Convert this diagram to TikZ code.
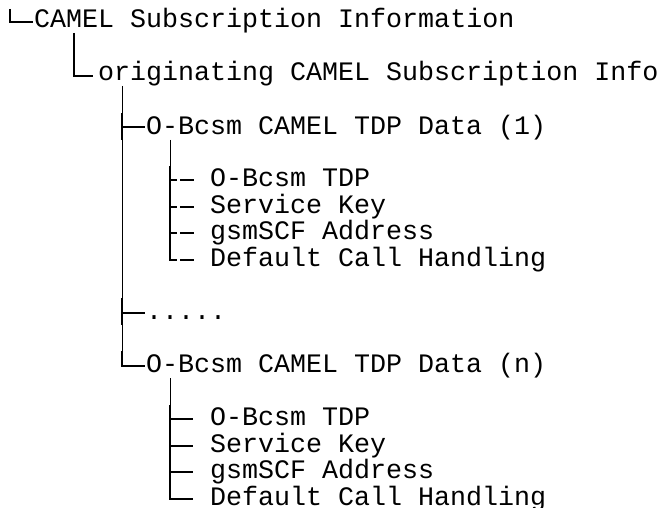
\documentclass[tikz,border=0pt]{standalone}
\usepackage{fontspec}
\newfontfamily\monof{Liberation Mono}
\usetikzlibrary{calc}
\begin{document}
\begin{tikzpicture}[x=1pt,y=-1pt,
  txt/.style={anchor=base west,inner sep=0pt,font=\monof\fontsize{26.67}{26.67}\selectfont},
  lnA/.style={line width=1pt,line cap=butt},
  lnB/.style={line width=2pt,line cap=butt}]
\useasboundingbox (0,0) rectangle (662,508);
% texts
\node[txt] (root) at (34,28) {CAMEL Subscription Information};
\node[txt] (orig) at (98,81) {originating CAMEL Subscription Info};
\node[txt] (d1) at (146,134.5) {O-Bcsm CAMEL TDP Data (1)};
\node[txt] (p1) at (210,187) {O-Bcsm TDP};
\node[txt] (k1) at (210,213.5) {Service Key};
\node[txt] (g1) at (210,240) {gsmSCF Address};
\node[txt] (h1) at (210,266.5) {Default Call Handling};
\node[txt] (dots) at (146,319.5) {.....};
\node[txt] (dn) at (146,372.5) {O-Bcsm CAMEL TDP Data (n)};
\node[txt] (p2) at (210,425.5) {O-Bcsm TDP};
\node[txt] (k2) at (210,452) {Service Key};
\node[txt] (g2) at (210,478.5) {gsmSCF Address};
\node[txt] (h2) at (210,505) {Default Call Handling};
% root corner
\coordinate (r0) at (10,9);
\draw[lnB] (r0) |- ($(root.base west)+(-1,-6)$);
% originating
\coordinate (o0) at ($(root.base west)+(40,5)$);
\draw[lnB] (o0) |- ($(orig.base west)+(-5,-5)$);
% trunk
\coordinate (t0) at ($(orig.base west)+(24,5)$);
\coordinate (t1) at ($(d1.base west)+(-24,-21.5)$);
\coordinate (t2) at ($(d1.base west)+(-24,5.5)$);
\coordinate (t3) at ($(dots.base west)+(-24,-21.5)$);
\coordinate (t4) at ($(dots.base west)+(-24,5.5)$);
\coordinate (t5) at ($(dn.base west)+(-24,-21.5)$);
\draw[lnA] (t0) -- (t5);
\draw[lnB] (t1) -- (t2);
\draw[lnB] (t3) -- (t4);
\draw[lnB] ($(d1.base west)+(-24,-7)$) -- ($(d1.base west)+(-1,-7)$);
\draw[lnB] ($(dots.base west)+(-24,-7)$) -- ($(dots.base west)+(-1,-7)$);
\draw[lnB] (t5) |- ($(dn.base west)+(-1,-7)$);
% first group
\coordinate (s0) at ($(d1.base west)+(24,5.5)$);
\coordinate (s1) at ($(p1.base west)+(-40,-21)$);
\draw[lnA] (s0) -- (s1);
\draw[lnB] (s1) |- ($(h1.base west)+(-33,-6.5)$);
\foreach \n in {p1,k1,g1}
  \draw[lnB] ($(\n.base west)+(-40,-6.5)$) -- ($(\n.base west)+(-33,-6.5)$);
\foreach \n in {p1,k1,g1,h1}
  \draw[lnB] ($(\n.base west)+(-30,-6.5)$) -- ($(\n.base west)+(-16,-6.5)$);
% second group
\coordinate (u0) at ($(dn.base west)+(24,5.5)$);
\coordinate (u1) at ($(p2.base west)+(-40,-21)$);
\draw[lnA] (u0) -- (u1);
\draw[lnB] (u1) |- ($(h2.base west)+(-17,-6.5)$);
\foreach \n in {p2,k2,g2}
  \draw[lnB] ($(\n.base west)+(-40,-6.5)$) -- ($(\n.base west)+(-17,-6.5)$);
\end{tikzpicture}
\end{document}
